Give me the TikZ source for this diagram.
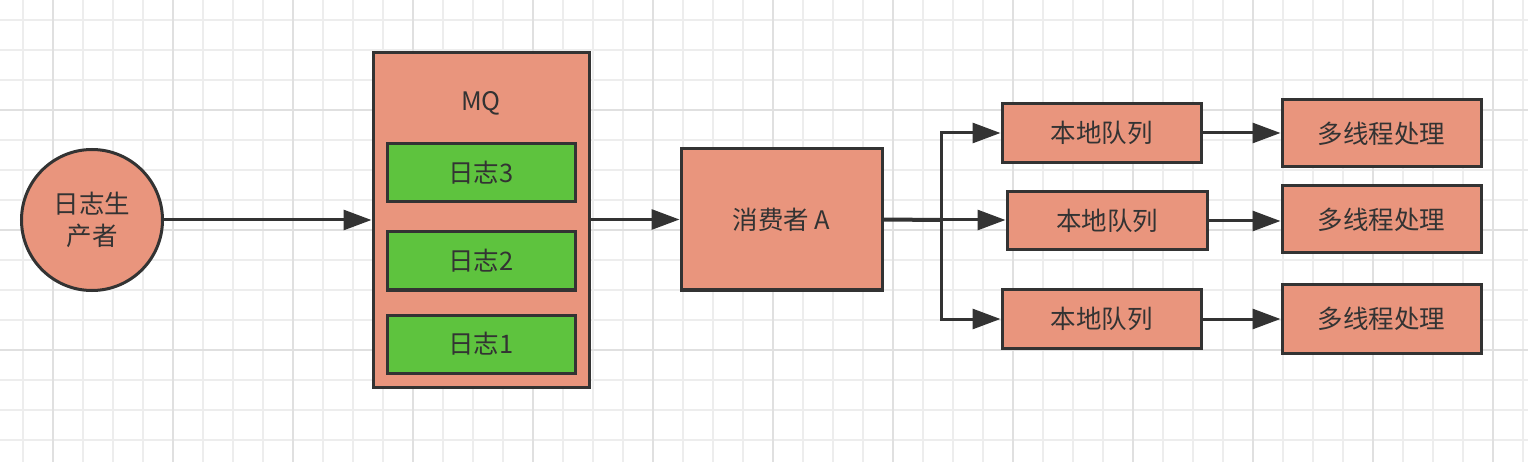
\documentclass[tikz,border=0pt]{standalone}
\usepackage{fontspec}
\setmainfont{Noto Sans CJK SC}
\usetikzlibrary{arrows.meta}
\definecolor{salmon}{HTML}{E9957D}
\definecolor{lgreen}{HTML}{5EC33E}
\definecolor{edge}{HTML}{333333}
\definecolor{gridminor}{HTML}{EDEDED}
\definecolor{gridmajor}{HTML}{E0E0E0}
\tikzset{
  box/.style={draw=edge, line width=3pt, fill=salmon, text=edge, inner sep=0pt,
    font=\fontsize{25.5}{32}\selectfont},
  logbox/.style={box, fill=lgreen, minimum width=188pt, minimum height=58pt},
  qbox/.style={box, minimum width=199pt, minimum height=59pt},
  pbox/.style={box, minimum width=199pt, minimum height=67pt},
  arr/.style={draw=edge, line width=3pt, -{Triangle[length=28pt,width=20pt]}},
  conn/.style={draw=edge, line width=4pt},
}
\begin{document}
\begin{tikzpicture}[x=1pt,y=-1pt]
\useasboundingbox (0,0) rectangle (1528,462);
\fill[white] (0,0) rectangle (1528,462);
% grid
\foreach \gx in {23,53,...,1523} \draw[gridminor, line width=1.5pt] (\gx,0) -- (\gx,462);
\foreach \gy in {20,50,...,460} \draw[gridminor, line width=1.5pt] (0,\gy) -- (1528,\gy);
\foreach \gx in {53,173,...,1493} \draw[gridmajor, line width=2pt] (\gx,0) -- (\gx,462);
\foreach \gy in {110,230,350} \draw[gridmajor, line width=2pt] (0,\gy) -- (1528,\gy);
% nodes
\node[box, circle, minimum size=141pt, align=center] (prod) at (92,220) {日志生\\产者};
\node[box, minimum width=216pt, minimum height=334pt] (mq) at (481,220) {};
\node[text=edge, font=\fontsize{25.5}{32}\selectfont] (mqlabel) at (481,103) {MQ};
\node[logbox] (l3) at (481,173) {日志3};
\node[logbox] (l2) at (481,261) {日志2};
\node[logbox] (l1) at (481,344) {日志1};
\node[box, minimum width=201pt, minimum height=141pt] (cons) at (781.5,219.5) {消费者 A};
\node[qbox] (q1) at (1101.5,133) {本地队列};
\node[qbox, minimum width=200pt, minimum height=58pt] (q2) at (1107,221) {本地队列};
\node[qbox] (q3) at (1101.5,319) {本地队列};
\node[pbox] (p1) at (1381.5,133.5) {多线程处理};
\node[pbox] (p2) at (1381.5,219.5) {多线程处理};
\node[pbox, minimum height=68pt] (p3) at (1381.5,319) {多线程处理};
% connectors
\coordinate (j) at (941,220);
\draw[arr] (prod.east) -- (mq.west |- prod.east);
\draw[arr] (mq.east |- cons.west) -- (cons.west);
\draw[conn] (cons.east) -- (j);
\draw[arr] (j) |- (q1.west);
\draw[arr] (j) -- (q2.west |- j);
\draw[arr] (j) |- (q3.west);
\draw[arr] (q1.east) -- (p1.west |- q1.east);
\draw[arr] (q2.east) -- (p2.west |- q2.east);
\draw[arr] (q3.east) -- (p3.west |- q3.east);
\end{tikzpicture}
\end{document}
